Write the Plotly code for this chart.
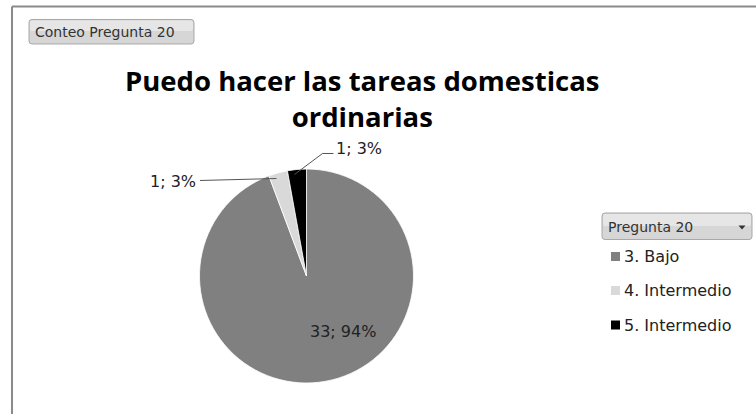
import plotly.graph_objects as go

# Survey counts for "Pregunta 20"
categories = ["3. Bajo", "4. Intermedio", "5. Intermedio"]
counts = [33, 1, 1]
colors = ["#808080", "#d9d9d9", "#000000"]

W, H = 756, 414


def px(x):
    return x / W


def py(y):
    return 1 - y / H


total = sum(counts)
labels_txt = [f"{c}; {round(100 * c / total)}%" for c in counts]

# pie geometry (pixels)
cx, cy, diam = 306.5, 276.0, 214

fig = go.Figure(
    go.Pie(
        labels=categories,
        values=counts,
        marker=dict(colors=colors, line=dict(color="white", width=0.8)),
        sort=False,
        direction="clockwise",
        rotation=0,
        textinfo="none",
        hoverinfo="label+value+percent",
        showlegend=False,
        domain=dict(
            x=[px(cx - diam / 2), px(cx + diam / 2)],
            y=[py(cy + diam / 2), py(cy - diam / 2)],
        ),
    )
)

font_title = "Open Sans, Noto Sans, sans-serif"
font_main = "DejaVu Sans, Verdana, sans-serif"
shapes = []
annotations = []

# outer frame (top and left edges visible)
shapes.append(dict(type="line", xref="paper", yref="paper",
                   x0=px(12), y0=py(6.5), x1=px(760), y1=py(6.5),
                   line=dict(color="#8a8a8a", width=2)))
shapes.append(dict(type="line", xref="paper", yref="paper",
                   x0=px(12), y0=py(6.5), x1=px(12), y1=py(420),
                   line=dict(color="#8a8a8a", width=2)))


def button(x0, y0, x1, y1, r=3):
    return (
        f"M {x0 + r},{y0} L {x1 - r},{y0} Q {x1},{y0} {x1},{y0 + r} "
        f"L {x1},{y1 - r} Q {x1},{y1} {x1 - r},{y1} L {x0 + r},{y1} "
        f"Q {x0},{y1} {x0},{y1 - r} L {x0},{y0 + r} Q {x0},{y0} {x0 + r},{y0} Z"
    )


def to_paper_path(pts_path):
    # convert a pixel path to paper coordinates
    out = []
    for tok in pts_path.split(" "):
        if "," in tok:
            a, b = tok.split(",")
            out.append(f"{px(float(a)):.5f},{py(float(b)):.5f}")
        else:
            out.append(tok)
    return " ".join(out)


# field button "Conteo Pregunta 20"
shapes.append(dict(type="path", xref="paper", yref="paper",
                   path=to_paper_path(button(29, 19.5, 194, 44)),
                   fillcolor="#d6d6d6", line=dict(color="#a8a8a8", width=1)))
shapes.append(dict(type="path", xref="paper", yref="paper",
                   path=to_paper_path(button(30, 20.5, 193, 31, 2)),
                   fillcolor="#e6e6e6", line=dict(width=0)))
annotations.append(dict(text="Conteo Pregunta 20", x=px(33), y=py(32),
                        xref="paper", yref="paper", xanchor="left", yanchor="middle",
                        showarrow=False, font=dict(family=font_main, size=14, color="#333333")))

# legend header button "Pregunta 20"
shapes.append(dict(type="path", xref="paper", yref="paper",
                   path=to_paper_path(button(602, 213, 752, 239.5)),
                   fillcolor="#d6d6d6", line=dict(color="#a8a8a8", width=1)))
shapes.append(dict(type="path", xref="paper", yref="paper",
                   path=to_paper_path(button(603, 214, 751, 226, 2)),
                   fillcolor="#e6e6e6", line=dict(width=0)))
annotations.append(dict(text="Pregunta 20", x=px(606), y=py(227),
                        xref="paper", yref="paper", xanchor="left", yanchor="middle",
                        showarrow=False, font=dict(family=font_main, size=14, color="#333333")))
shapes.append(dict(type="path", xref="paper", yref="paper",
                   path=to_paper_path("M 738.5,225.5 L 745.5,225.5 L 742,229.5 Z"),
                   fillcolor="#333333", line=dict(width=0)))

# title
annotations.append(dict(text="<b>Puedo hacer las tareas domesticas<br>ordinarias</b>",
                        x=px(362), y=py(60), xref="paper", yref="paper",
                        xanchor="center", yanchor="top", align="center", showarrow=False,
                        font=dict(family=font_title, size=27.5, color="#000000")))

# legend entries
row_y = [256.5, 290.5, 325]
for cat, col, yy in zip(categories, colors, row_y):
    shapes.append(dict(type="rect", xref="paper", yref="paper",
                       x0=px(611), x1=px(620), y0=py(yy - 4.5), y1=py(yy + 4.5),
                       fillcolor=col, line=dict(width=0)))
    annotations.append(dict(text=cat, x=px(622), y=py(yy), xref="paper", yref="paper",
                            xanchor="left", yanchor="middle", showarrow=False,
                            font=dict(family=font_main, size=16, color="#222222")))

# data labels: inside for the large slice, leader lines for the small ones
label_pos = [(343, 331, "center"), (198, 182, "right"), (334, 148, "left")]
for txt, (lx, ly, anc) in zip(labels_txt, label_pos):
    annotations.append(dict(text=txt, x=px(lx), y=py(ly), xref="paper", yref="paper",
                            xanchor=anc, yanchor="middle", showarrow=False,
                            font=dict(family=font_main, size=16, color="#222222")))

shapes.append(dict(type="path", xref="paper", yref="paper",
                   path=to_paper_path("M 200,180.5 L 276.5,178.5"),
                   line=dict(color="#555555", width=1)))
shapes.append(dict(type="path", xref="paper", yref="paper",
                   path=to_paper_path("M 294.5,174.5 L 322.5,153.5 L 333.5,153.5"),
                   line=dict(color="#555555", width=1)))

fig.update_layout(
    width=W, height=H,
    margin=dict(l=0, r=0, t=0, b=0),
    paper_bgcolor="white", plot_bgcolor="white",
    shapes=shapes, annotations=annotations,
    showlegend=False,
)

fig.write_html("out.html")
